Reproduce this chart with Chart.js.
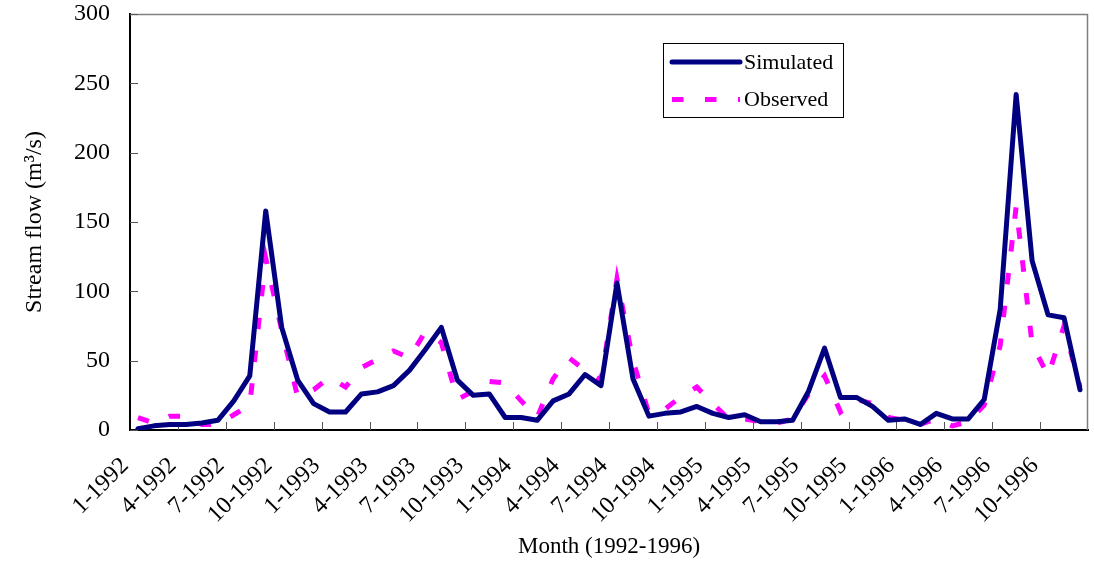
<!DOCTYPE html>
<html>
<head>
<meta charset="utf-8">
<title>Stream flow 1992-1996</title>
<script src="https://cdn.jsdelivr.net/npm/chart.js@4.4.0/dist/chart.umd.min.js"></script>
<style>
  html, body { margin: 0; padding: 0; background: #ffffff; }
  #wrap { width: 1094px; height: 562px; }
</style>
</head>
<body>
<div id="wrap"><canvas id="flow" width="1094" height="562"></canvas></div>
<script>
// Monthly categories, January 1992 to December 1996
const months = [
  '1-1992','2-1992','3-1992','4-1992','5-1992','6-1992','7-1992','8-1992','9-1992','10-1992','11-1992','12-1992',
  '1-1993','2-1993','3-1993','4-1993','5-1993','6-1993','7-1993','8-1993','9-1993','10-1993','11-1993','12-1993',
  '1-1994','2-1994','3-1994','4-1994','5-1994','6-1994','7-1994','8-1994','9-1994','10-1994','11-1994','12-1994',
  '1-1995','2-1995','3-1995','4-1995','5-1995','6-1995','7-1995','8-1995','9-1995','10-1995','11-1995','12-1995',
  '1-1996','2-1996','3-1996','4-1996','5-1996','6-1996','7-1996','8-1996','9-1996','10-1996','11-1996','12-1996'
];

// Stream flow, m3/s
const simulated = [
  1, 3, 4, 4, 5, 7, 21, 39, 158, 74,
  36, 19, 13, 13, 26, 27.5, 32, 43, 58, 74,
  36, 25, 26, 9, 9, 7, 21, 26, 40, 32,
  106, 37, 10, 12, 13, 17, 12, 9, 11, 6,
  6, 7, 28, 59, 23.5, 23.5, 17, 7, 8, 4,
  12, 8, 8, 22, 87, 242, 122, 83, 81, 29
];
const observed = [
  9, 5, 10, 10, 4, 4, 11, 18, 124, 72,
  24, 29, 38, 31, 45, 51, 57, 52, 71, 63,
  22, 28, 35, 34, 21, 9, 37, 52, 43, 36,
  109, 50, 12, 15, 24, 31, 19, 8, 8, 6,
  5, 8, 26, 39, 13, 22, 19, 9, 7, 4,
  8, 3, 6, 18, 61, 161, 62, 39, 75, 31
];

const seriesNames = ['Simulated', 'Observed'];
const yTicks = { min: 0, max: 300, step: 50 };
const labelEvery = 3;   // one month label per quarter
const xTitle = 'Month (1992-1996)';
const yTitle = 'Stream flow (m\u00B3/s)';

const SERIF = "'Liberation Serif', 'Times New Roman', serif";
Chart.defaults.font.family = SERIF;
Chart.defaults.color = '#000000';

// Gray frame on top/right plus short inward tick marks on both axes
const frameAndTicks = {
  id: 'frameAndTicks',
  beforeDatasetsDraw(chart) {
    const { ctx, chartArea: a, scales: { x, y } } = chart;
    ctx.save();
    ctx.strokeStyle = '#808080';
    ctx.lineWidth = 1.5;
    ctx.beginPath();
    ctx.moveTo(a.left, a.top + 0.5);
    ctx.lineTo(a.right - 0.5, a.top + 0.5);
    ctx.lineTo(a.right - 0.5, a.bottom);
    ctx.stroke();

    ctx.strokeStyle = '#555555';
    ctx.lineWidth = 1;
    ctx.beginPath();
    y.ticks.forEach(t => {
      const py = Math.round(y.getPixelForValue(t.value)) + 0.5;
      ctx.moveTo(a.left, py);
      ctx.lineTo(a.left + 8, py);
    });
    const half = (x.getPixelForValue(1) - x.getPixelForValue(0)) / 2;
    for (let i = labelEvery; i < months.length; i += labelEvery) {
      const px = Math.round(x.getPixelForValue(i) - half) + 0.5;
      ctx.moveTo(px, a.bottom);
      ctx.lineTo(px, a.bottom - 8);
    }
    ctx.stroke();
    ctx.restore();
  }
};

// Boxed legend inside the plot, built from the dataset styles
const boxLegend = {
  id: 'boxLegend',
  afterDatasetsDraw(chart) {
    const { ctx } = chart;
    const box = { x: 663.5, y: 43.5, w: 180, h: 74 };
    ctx.save();
    ctx.fillStyle = '#ffffff';
    ctx.fillRect(box.x, box.y, box.w, box.h);
    ctx.strokeStyle = '#000000';
    ctx.lineWidth = 1;
    ctx.strokeRect(box.x, box.y, box.w, box.h);
    const rows = [62, 99.5];
    chart.data.datasets.forEach((ds, i) => {
      const yy = rows[i];
      ctx.save();
      ctx.strokeStyle = ds.borderColor;
      ctx.lineWidth = ds.borderWidth;
      ctx.lineCap = ds.borderDash && ds.borderDash.length ? 'butt' : 'round';
      ctx.setLineDash(ds.borderDash || []);
      ctx.beginPath();
      ctx.moveTo(672, yy);
      ctx.lineTo(740, yy);
      ctx.stroke();
      ctx.restore();
      ctx.fillStyle = '#000000';
      ctx.font = '22px ' + SERIF;
      ctx.textAlign = 'left';
      ctx.textBaseline = 'middle';
      ctx.fillText(ds.label, 744, yy + 1);
    });
    ctx.restore();
  }
};

new Chart(document.getElementById('flow'), {
  type: 'line',
  data: {
    labels: months,
    datasets: [
      {
        label: seriesNames[0],
        data: simulated,
        borderColor: '#000080',
        borderWidth: 5,
        borderJoinStyle: 'round',
        borderCapStyle: 'round',
        pointRadius: 0,
        tension: 0,
        fill: false
      },
      {
        label: seriesNames[1],
        data: observed,
        borderColor: '#ff00ff',
        borderWidth: 5,
        borderDash: [11.5, 21.5],
        borderCapStyle: 'butt',
        borderJoinStyle: 'miter',
        pointRadius: 0,
        tension: 0,
        fill: false
      }
    ]
  },
  options: {
    responsive: false,
    animation: false,
    devicePixelRatio: 1,
    layout: { padding: { top: 14, right: 6, left: 0, bottom: 0 } },
    plugins: { legend: { display: false }, tooltip: { enabled: false } },
    scales: {
      x: {
        type: 'category',
        offset: true,
        grid: { display: false, drawTicks: false },
        border: { display: true, color: '#000000', width: 2 },
        ticks: {
          autoSkip: false,
          minRotation: 45,
          maxRotation: 45,
          padding: 22,
          labelOffset: -13,
          font: { size: 24 },
          color: '#000000',
          callback: function (value, index) {
            return index % labelEvery === 0 ? months[index] : null;
          }
        },
        title: {
          display: true,
          text: xTitle,
          font: { size: 23, lineHeight: 1.2 },
          color: '#000000',
          padding: { top: 0, bottom: 1 }
        },
        afterFit(scale) {
          scale.height = 132;
          scale.paddingLeft = 0;
          scale.paddingRight = 0;
        }
      },
      y: {
        min: yTicks.min,
        max: yTicks.max,
        grid: { display: false, drawTicks: false },
        border: { display: true, color: '#000000', width: 2 },
        ticks: {
          stepSize: yTicks.step,
          padding: 20,
          font: { size: 24 },
          color: '#000000'
        },
        title: {
          display: true,
          text: yTitle,
          font: { size: 24, lineHeight: 1.2 },
          color: '#000000',
          padding: { top: 20, bottom: 0 }
        },
        afterFit(scale) {
          scale.width = 130;
          scale.paddingTop = 0;
          scale.paddingBottom = 0;
        }
      }
    }
  },
  plugins: [frameAndTicks, boxLegend]
});
</script>
</body>
</html>
